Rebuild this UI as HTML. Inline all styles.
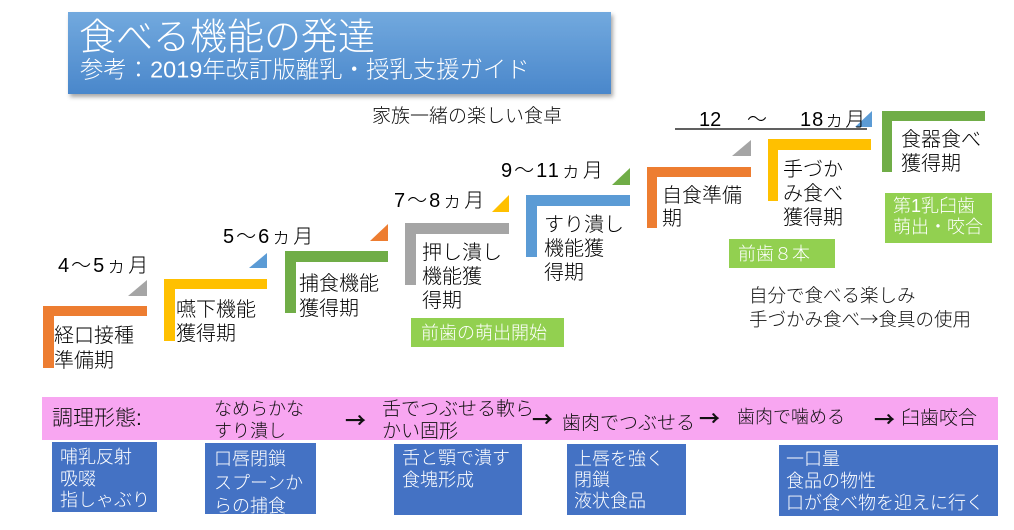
<!DOCTYPE html>
<html><head><meta charset="utf-8"><style>
html,body{margin:0;padding:0;background:#fff;}
svg{display:block;}
text{font-family:"Liberation Sans","Noto Sans CJK JP",sans-serif;font-weight:300;}
.cj{font-family:"Noto Sans CJK JP","Liberation Sans",sans-serif;}
.ar{font-family:"Noto Sans CJK JP","Liberation Sans",sans-serif;font-weight:700;}
</style></head><body>
<svg width="1014" height="530" viewBox="0 0 1014 530" xmlns="http://www.w3.org/2000/svg">
<defs>
<linearGradient id="tg" x1="0" y1="0" x2="0" y2="1">
<stop offset="0" stop-color="#72a9de"/><stop offset="1" stop-color="#4a87cb"/>
</linearGradient>
<filter id="sh" x="-5%" y="-20%" width="110%" height="150%">
<feDropShadow dx="2" dy="3" stdDeviation="2" flood-color="#000" flood-opacity="0.35"/>
</filter>
</defs>

<!-- Title -->
<rect x="68" y="12" width="543" height="82" fill="url(#tg)" filter="url(#sh)"/>
<text x="79" y="49.5" font-size="37" fill="#fff">食べる機能の発達</text>
<text x="80" y="77.5" font-size="23.4" fill="#fff">参考：2019年改訂版離乳・授乳支援ガイド</text>

<text x="372" y="122" font-size="19" fill="#111">家族一緒の楽しい食卓</text>

<!-- 12-18 months -->
<line x1="675" y1="129" x2="867" y2="129" stroke="#000" stroke-width="1.3"/>
<polygon points="855,127 872,127 872,111" fill="#5b9bd5"/>
<text x="699" y="126" font-size="20" fill="#000">12</text>
<text x="747" y="126" font-size="20" fill="#000" class="cj">〜</text>
<text x="800" y="126" font-size="20" fill="#000" letter-spacing="1">18<tspan class="cj">ヵ月</tspan></text>

<!-- Month labels -->
<text x="58" y="272" font-size="20" fill="#000" letter-spacing="2">4<tspan class="cj">〜</tspan>5<tspan class="cj">ヵ月</tspan></text>
<text x="223" y="243" font-size="20" fill="#000" letter-spacing="2">5<tspan class="cj">〜</tspan>6<tspan class="cj">ヵ月</tspan></text>
<text x="394" y="207" font-size="20" fill="#000" letter-spacing="2">7<tspan class="cj">〜</tspan>8<tspan class="cj">ヵ月</tspan></text>
<text x="501" y="177" font-size="20" fill="#000" letter-spacing="2">9<tspan class="cj">〜</tspan>11<tspan class="cj">ヵ月</tspan></text>

<!-- Triangles -->
<polygon points="128,296 147,296 147,280" fill="#a5a5a5"/>
<polygon points="249,268 267,268 267,253" fill="#5b9bd5"/>
<polygon points="370,241 388,241 388,224" fill="#ed7d31"/>
<polygon points="492,212 509,212 509,195" fill="#ffc000"/>
<polygon points="612,185 630,185 630,168" fill="#70ad47"/>
<polygon points="732,156 751,156 751,140" fill="#a5a5a5"/>

<!-- L shapes -->
<g fill="#ed7d31"><rect x="43" y="306" width="104" height="10"/><rect x="43" y="306" width="11" height="62"/></g>
<g fill="#ffc000"><rect x="164" y="279" width="103" height="10"/><rect x="164" y="279" width="11" height="62"/></g>
<g fill="#70ad47"><rect x="285" y="251" width="103" height="11"/><rect x="285" y="251" width="11" height="62"/></g>
<g fill="#a5a5a5"><rect x="405" y="223" width="104" height="11"/><rect x="405" y="223" width="11" height="62"/></g>
<g fill="#5b9bd5"><rect x="526" y="195" width="104" height="11"/><rect x="526" y="195" width="11" height="62"/></g>
<g fill="#ed7d31"><rect x="647" y="167" width="104" height="10"/><rect x="647" y="167" width="10" height="61"/></g>
<g fill="#ffc000"><rect x="768" y="139" width="103" height="11"/><rect x="768" y="139" width="10" height="62"/></g>
<g fill="#70ad47"><rect x="882" y="111" width="103" height="10"/><rect x="882" y="111" width="10" height="61"/></g>

<!-- Step texts -->
<g font-size="20" fill="#000">
<text x="54" y="342">経口接種</text><text x="54" y="367">準備期</text>
<text x="176" y="316">嚥下機能</text><text x="176" y="340">獲得期</text>
<text x="299" y="290">捕食機能</text><text x="299" y="315">獲得期</text>
<text x="422" y="259">押し潰し</text><text x="422" y="283">機能獲</text><text x="422" y="307">得期</text>
<text x="544" y="231">すり潰し</text><text x="544" y="255">機能獲</text><text x="544" y="279">得期</text>
<text x="662" y="202">自食準備</text><text x="662" y="225">期</text>
<text x="783" y="176">手づか</text><text x="783" y="200">み食べ</text><text x="783" y="224">獲得期</text>
<text x="901" y="146">食器食べ</text><text x="901" y="170">獲得期</text>
</g>

<!-- Green boxes -->
<rect x="411" y="318" width="153" height="29" fill="#92d050"/>
<text x="421" y="339" font-size="18" fill="#fff">前歯の萌出開始</text>
<rect x="729" y="239" width="106" height="29" fill="#92d050"/>
<text x="738" y="260" font-size="18" fill="#fff">前歯<tspan class="cj">８</tspan>本</text>
<rect x="885" y="193" width="107" height="50" fill="#92d050"/>
<text x="893" y="212" font-size="18" fill="#fff">第1乳臼歯</text>
<text x="893" y="233" font-size="18" fill="#fff">萌出・咬合</text>

<!-- Notes -->
<text x="749" y="302" font-size="18.5" fill="#111">自分で食べる楽しみ</text>
<text x="749" y="326" font-size="18.5" fill="#111">手づかみ食べ<tspan class="cj">→</tspan>食具の使用</text>

<!-- Pink band -->
<rect x="42" y="397" width="956" height="43" fill="#f8a6f1"/>
<g fill="#111">
<text x="52" y="425" font-size="21">調理形態:</text>
<text x="214" y="415" font-size="18">なめらかな</text>
<text x="214" y="437" font-size="18">すり潰し</text>
<text x="345" y="428" font-size="21" class="ar">→</text>
<text x="382" y="415" font-size="19">舌でつぶせる軟ら</text>
<text x="382" y="437" font-size="19">かい固形</text>
<text x="532" y="427" font-size="21" class="ar">→</text>
<text x="562" y="429" font-size="19">歯肉でつぶせる</text>
<text x="699" y="426" font-size="21" class="ar">→</text>
<text x="737" y="423" font-size="18">歯肉で噛める</text>
<text x="874" y="427" font-size="21" class="ar">→</text>
<text x="901" y="424" font-size="19">臼歯咬合</text>
</g>

<!-- Blue boxes -->
<g fill="#4472c4" stroke="#fff" stroke-width="2">
<rect x="51" y="441" width="107" height="72"/>
<rect x="204" y="442" width="113" height="73"/>
<rect x="393" y="443" width="130" height="73"/>
<rect x="566" y="443" width="121" height="73"/>
<rect x="778" y="444" width="221" height="73"/>
</g>
<g fill="#fff" font-size="18">
<text x="60" y="463">哺乳反射</text><text x="60" y="485">吸啜</text><text x="60" y="506">指しゃぶり</text>
<text x="214" y="465">口唇閉鎖</text><text x="214" y="489">スプーンか</text><text x="214" y="512">らの捕食</text>
<text x="402" y="464">舌と顎で潰す</text><text x="402" y="486">食塊形成</text>
<text x="574" y="465">上唇を強く</text><text x="574" y="486">閉鎖</text><text x="574" y="507">液状食品</text>
<text x="786" y="465">一口量</text><text x="786" y="487">食品の物性</text><text x="786" y="509">口が食べ物を迎えに行く</text>
</g>
</svg>
</body></html>
